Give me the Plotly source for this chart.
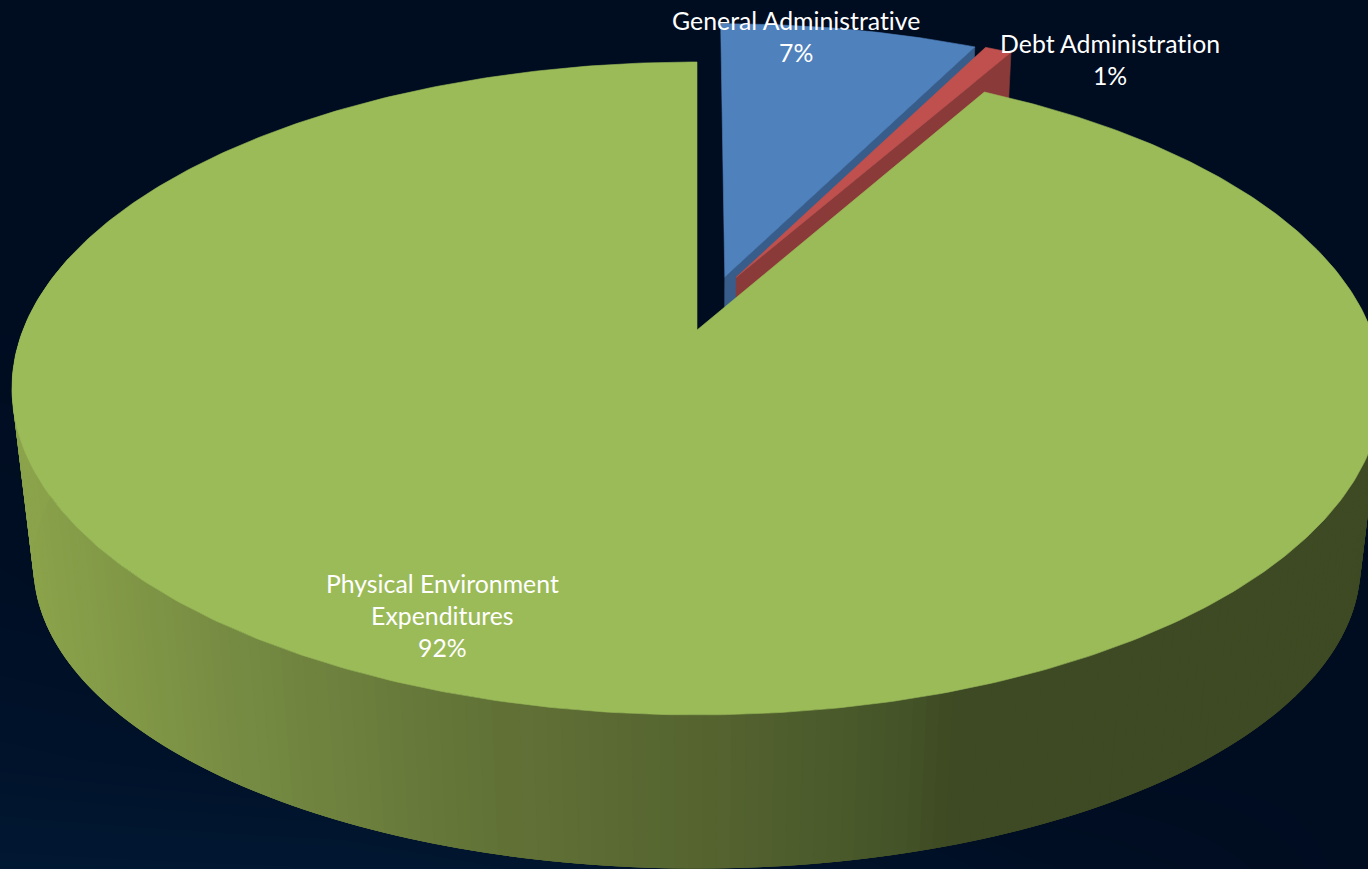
import numpy as np
import plotly.graph_objects as go

# ---- data ----
categories = ["General Administrative", "Debt Administration", "Physical Environment<br>Expenditures"]
shares = [7.4, 0.8, 91.8]
top_colors = ["#4f81bd", "#c0504d", "#9bbb59"]
side_colors = ["#385d8a", "#8a3a38", "#3f4b22"]
explode_u = [0.0425, 0.060, 0.0]
explode_v = [0.173, 0.172, 0.0]
label_x = [796, 1110, 442]
label_y = [36, 59, 615]

wall_x_stops = [30, 300, 500, 700, 900, 950, 1400]
wall_r = [139, 113, 98, 86, 70, 62, 62]
wall_g = [163, 133, 114, 101, 85, 74, 74]
wall_b = [75, 64, 55, 48, 41, 35, 35]

W, H = 1368, 869
X0 = 697
K = 0.179
TOP = dict(A=674, B=316, y0=330)
BOT = dict(A=653, B=294, y0=510.5)


def project(u, v, d):
    w = 1 + K * v
    return X0 + d["A"] * u / w, d["y0"] - d["B"] * v / w


def disk(theta, r=1.0, du=0.0, dv=0.0):
    return r * np.sin(theta) + du, r * np.cos(theta) + dv


fig = go.Figure()

# background glow
bg_x = [0, 342, 684, 1026, 1368]
bg_y = [0, 300, 600, 760, 869]
bg_z = [[0, 0, 0, 0, 0],
        [0, 0, 0, 0, 0],
        [0.2, 0.05, 0, 0, 0],
        [0.5, 0.35, 0.15, 0, 0],
        [0.85, 0.8, 0.55, 0.2, 0]]
fig.add_trace(go.Heatmap(x=bg_x, y=bg_y, z=bg_z, zsmooth="best", showscale=False, hoverinfo="skip",
                         colorscale=[[0, "#000c20"], [1, "#011a36"]], zmin=0, zmax=1))


def poly(xs, ys, color, name, width=0.6):
    fig.add_trace(go.Scatter(x=xs, y=ys, mode="lines", fill="toself", fillcolor=color,
                             line=dict(color=color, width=width), hoverinfo="skip",
                             showlegend=False, name=name))


edges = np.cumsum([0] + shares) / sum(shares) * 2 * np.pi

# exploded slices, blue then red
for i in (0, 1):
    a0, a1 = edges[i], edges[i + 1]
    du, dv = explode_u[i], explode_v[i]
    ou, ov = disk(a1, 1, du, dv)
    t1, t2 = project(du, dv, TOP), project(ou, ov, TOP)
    b1, b2 = project(du, dv, BOT), project(ou, ov, BOT)
    poly([t1[0], t2[0], b2[0], b1[0], t1[0]], [t1[1], t2[1], b2[1], b1[1], t1[1]], side_colors[i], categories[i] + " side")
    th = np.linspace(a0, a1, 60)
    u, v = disk(th, 1, du, dv)
    x, y = project(u, v, TOP)
    poly(np.r_[t1[0], x, t1[0]], np.r_[t1[1], y, t1[1]], top_colors[i], categories[i])

# green outer wall as overlapping shaded strips, swept from right to left
a0, a1 = edges[2], edges[3]
STEP = np.radians(1.0)
th = np.arange(np.pi * 0.42, np.pi * 1.58, STEP)
for j in range(len(th) - 1):
    t = np.linspace(th[j], min(th[j] + 3 * STEP, th[-1]), 4)
    u, v = disk(t)
    xt, yt = project(u, v, TOP)
    xb, yb = project(u, v, BOT)
    um, vm = disk(th[j] + STEP / 2)
    mid = (project(um, vm, TOP)[0] + project(um, vm, BOT)[0]) / 2
    col = "rgb(%d,%d,%d)" % (np.interp(mid, wall_x_stops, wall_r),
                             np.interp(mid, wall_x_stops, wall_g),
                             np.interp(mid, wall_x_stops, wall_b))
    poly(np.r_[xt, xb[::-1], xt[0]], np.r_[yt, yb[::-1], yt[0]], col, "wall", width=0)

# green top face
th = np.linspace(a0, a1, 500)
u, v = disk(th)
x, y = project(u, v, TOP)
c = project(0.0, 0.0, TOP)
poly(np.r_[c[0], x, c[0]], np.r_[c[1], y, c[1]], top_colors[2], categories[2])

for name, s, lx, ly in zip(categories, shares, label_x, label_y):
    fig.add_annotation(x=lx, y=ly, text=f"{name}<br>{round(s)}%", showarrow=False, xanchor="center", yanchor="middle",
                       align="center", font=dict(family="Lato", size=24.8, color="#ffffff"))

fig.update_xaxes(range=[0, W], visible=False, fixedrange=True)
fig.update_yaxes(range=[H, 0], visible=False, fixedrange=True)
fig.update_layout(width=W, height=H, margin=dict(l=0, r=0, t=0, b=0), paper_bgcolor="#000c20",
                  plot_bgcolor="#000c20", showlegend=False)
fig.write_html("out.html", config=dict(displayModeBar=False),
               post_script="document.body.style.margin='0';document.documentElement.style.overflow='hidden';"
                           "var s=document.createElement('style');"
                           "s.textContent='svg text,svg tspan{font-variant-ligatures:none !important;"
                           "font-feature-settings:\"liga\" 0,\"clig\" 0,\"dlig\" 0,\"calt\" 0 !important;"
                           "letter-spacing:0.01px !important}';"
                           "document.head.appendChild(s);")
